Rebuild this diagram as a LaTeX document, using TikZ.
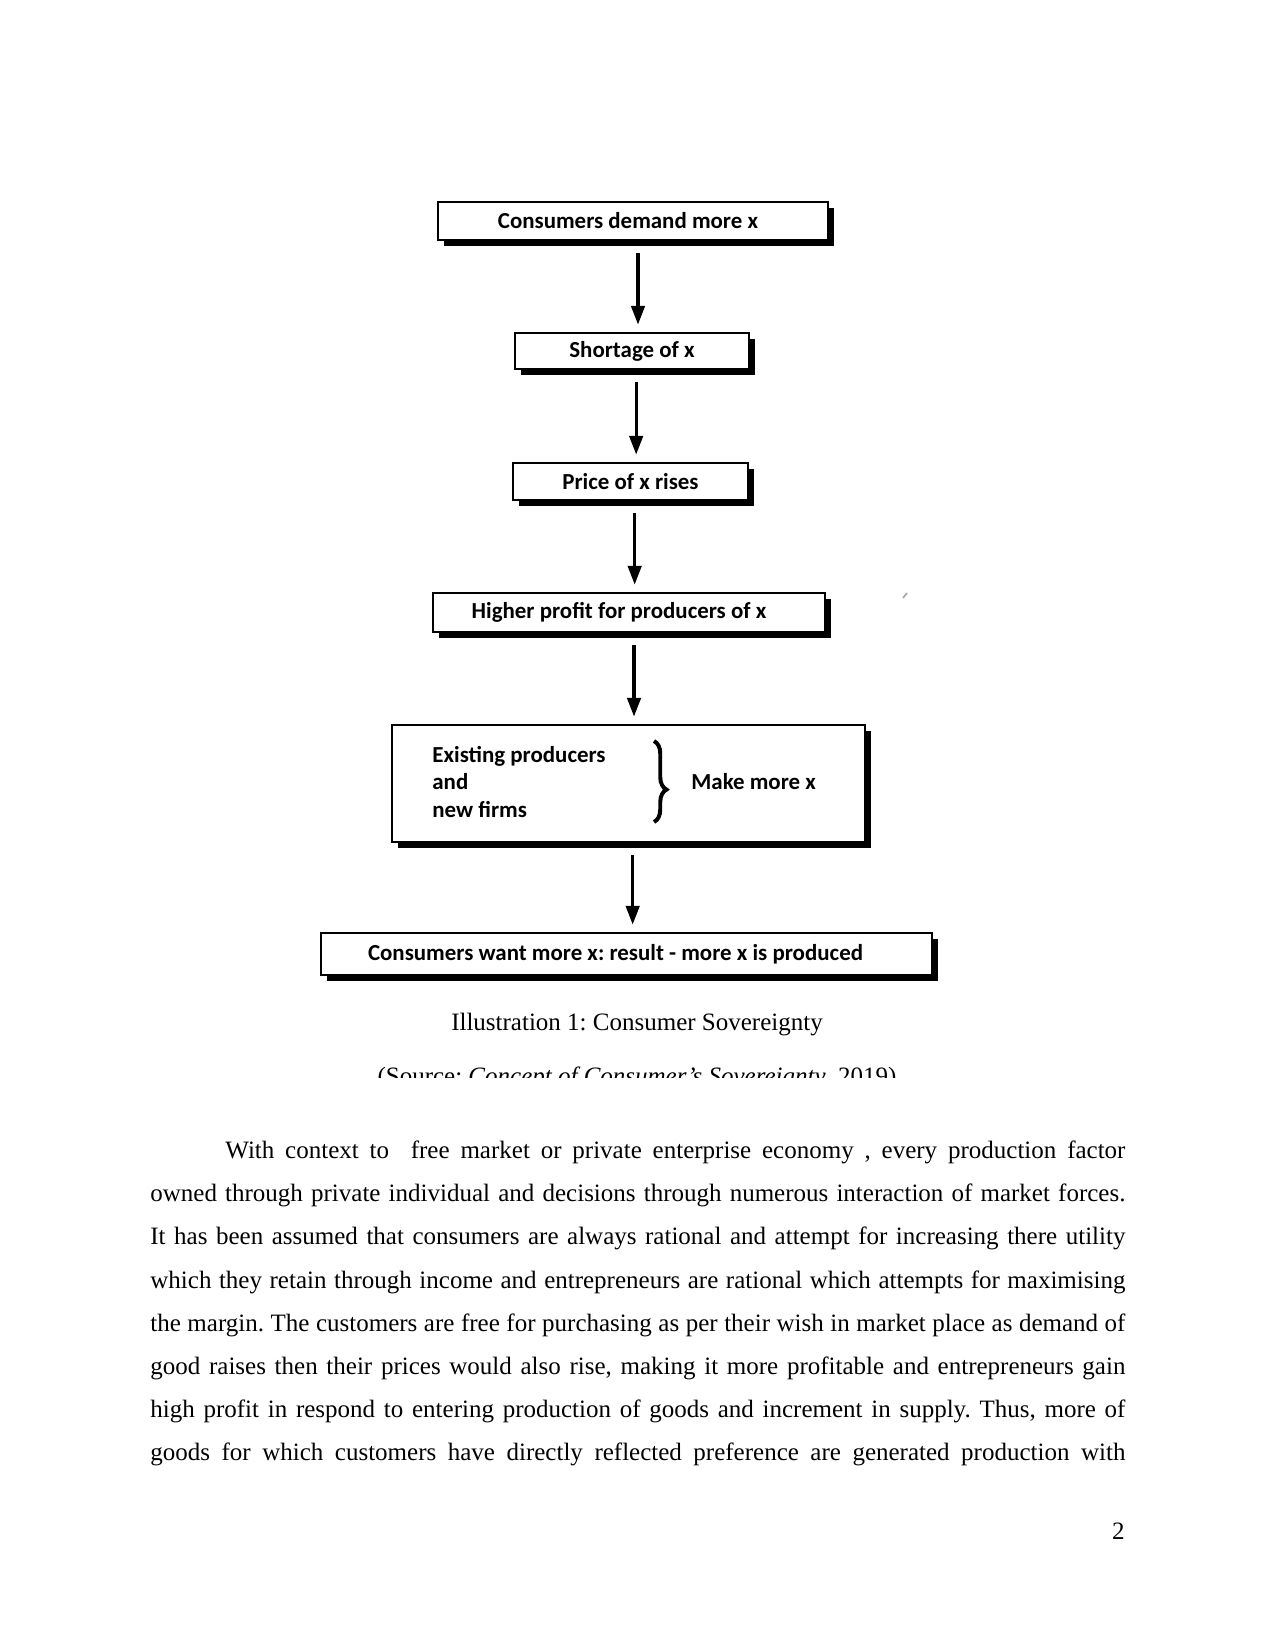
\documentclass[tikz,border=0pt]{standalone}
\usepackage{fontspec}
\setmainfont{Liberation Serif}
\newfontfamily\diagfont{Carlito}
\usetikzlibrary{arrows.meta,shadows,decorations.pathreplacing}
\frenchspacing
\tikzset{
  flowbox/.style={draw=black, line width=0.8pt, fill=white, inner sep=0pt,
    font=\diagfont\bfseries\fontsize{11}{13}\selectfont,
    general shadow={fill=black, shadow xshift=2.9pt, shadow yshift=-2.9pt}},
  arr/.style={line width=1.6pt, -{Triangle[width=6.4pt,length=9pt]},
    shorten <=6pt, shorten >=3.6pt},
  intext/.style={font=\diagfont\bfseries\fontsize{11}{13}\selectfont, inner sep=0pt},
  bodyline/.style={font=\fontsize{12}{14}\selectfont, inner sep=0pt, anchor=base west},
}
\begin{document}
\begin{tikzpicture}[x=0.48pt, y=-0.48pt]
\useasboundingbox[fill=white] (0,0) rectangle (1275,1650);

\node[flowbox, minimum width=390*0.48pt, minimum height=38*0.48pt] (b1) at (633,221) {Consumers demand more x\hspace*{4.8pt}};
\node[flowbox, minimum width=234*0.48pt, minimum height=36*0.48pt] (b2) at (632,351) {Shortage of x};
\node[flowbox, minimum width=235*0.48pt, minimum height=37*0.48pt] (b3) at (630.5,481.5) {Price of x rises};
\node[flowbox, minimum width=392*0.48pt, minimum height=39*0.48pt] (b4) at (629,612.5) {Higher profit for producers of x\hspace*{9.6pt}};
\node[flowbox, minimum width=473*0.48pt, minimum height=117*0.48pt] (b5) at (628.5,783.5) {};
\node[flowbox, minimum width=611*0.48pt, minimum height=42*0.48pt] (b6) at (626.5,954) {Consumers want more x: result - more x is produced\hspace*{10.5pt}};

\node[intext, anchor=base west] (e1) at (432,762) {Existing producers};
\node[intext, anchor=base west] (e2) at (432,789) {and};
\node[intext, anchor=base west] (e3) at (432,817) {new firms};
\node[intext, anchor=base west] (mk) at (691,789) {Make more x};
\draw[decorate, decoration={brace, amplitude=6pt, aspect=0.6}, line width=1.9pt] (654,741) -- (654,822);

\draw[arr] ([xshift=2.4pt]b1.south) -- ([xshift=2.4pt]b1.south |- b2.north);
\draw[arr] ([xshift=2pt]b2.south) -- ([xshift=2pt]b2.south |- b3.north);
\draw[arr] ([xshift=2pt]b3.south) -- ([xshift=2pt]b3.south |- b4.north);
\draw[arr] ([xshift=2.4pt]b4.south) -- ([xshift=2.4pt]b4.south |- b5.north);
\draw[arr] ([xshift=2pt]b5.south) -- ([xshift=2pt]b5.south |- b6.north);

\draw[gray!70, line width=0.8pt] (903,598) -- (907,593);

\node[font=\fontsize{12}{14}\selectfont, inner sep=0pt, anchor=base] (cap) at (637,1030) {Illustration 1: Consumer Sovereignty};
\begin{scope}
\clip (0,0) rectangle (1275,1077);
\node[font=\fontsize{12}{14}\selectfont, inner sep=0pt, anchor=base] (src) at (637,1084) {(Source: \textit{Concept of Consumer’s Sovereignty}, 2019)};
\end{scope}

\node[bodyline] (l1) at (150,1158.5) {\hbox to 468pt{\hskip36pt With context to\ \ free market or private enterprise economy , every production factor}};
\node[bodyline] (l2) at (150,1201.7) {\hbox to 468pt{owned through private individual and decisions through numerous interaction of market forces.}};
\node[bodyline] (l3) at (150,1244.9) {\hbox to 468pt{It has been assumed that consumers are always rational and attempt for increasing there utility}};
\node[bodyline] (l4) at (150,1288.1) {\hbox to 468pt{which they retain through income and entrepreneurs are rational which attempts for maximising}};
\node[bodyline] (l5) at (150,1331.3) {\hbox to 468pt{the margin. The customers are free for purchasing as per their wish in market place as demand of}};
\node[bodyline] (l6) at (150,1374.5) {\hbox to 468pt{good raises then their prices would also rise, making it more profitable and entrepreneurs gain}};
\node[bodyline] (l7) at (150,1417.7) {\hbox to 468pt{high profit in respond to entering production of goods and increment in supply. Thus, more of}};
\node[bodyline] (l8) at (150,1460.9) {\hbox to 468pt{goods for which customers have directly reflected preference are generated production with}};

\node[font=\fontsize{12}{14}\selectfont, inner sep=0pt, anchor=base east] (pg) at (1125,1539) {2};
\end{tikzpicture}
\end{document}
